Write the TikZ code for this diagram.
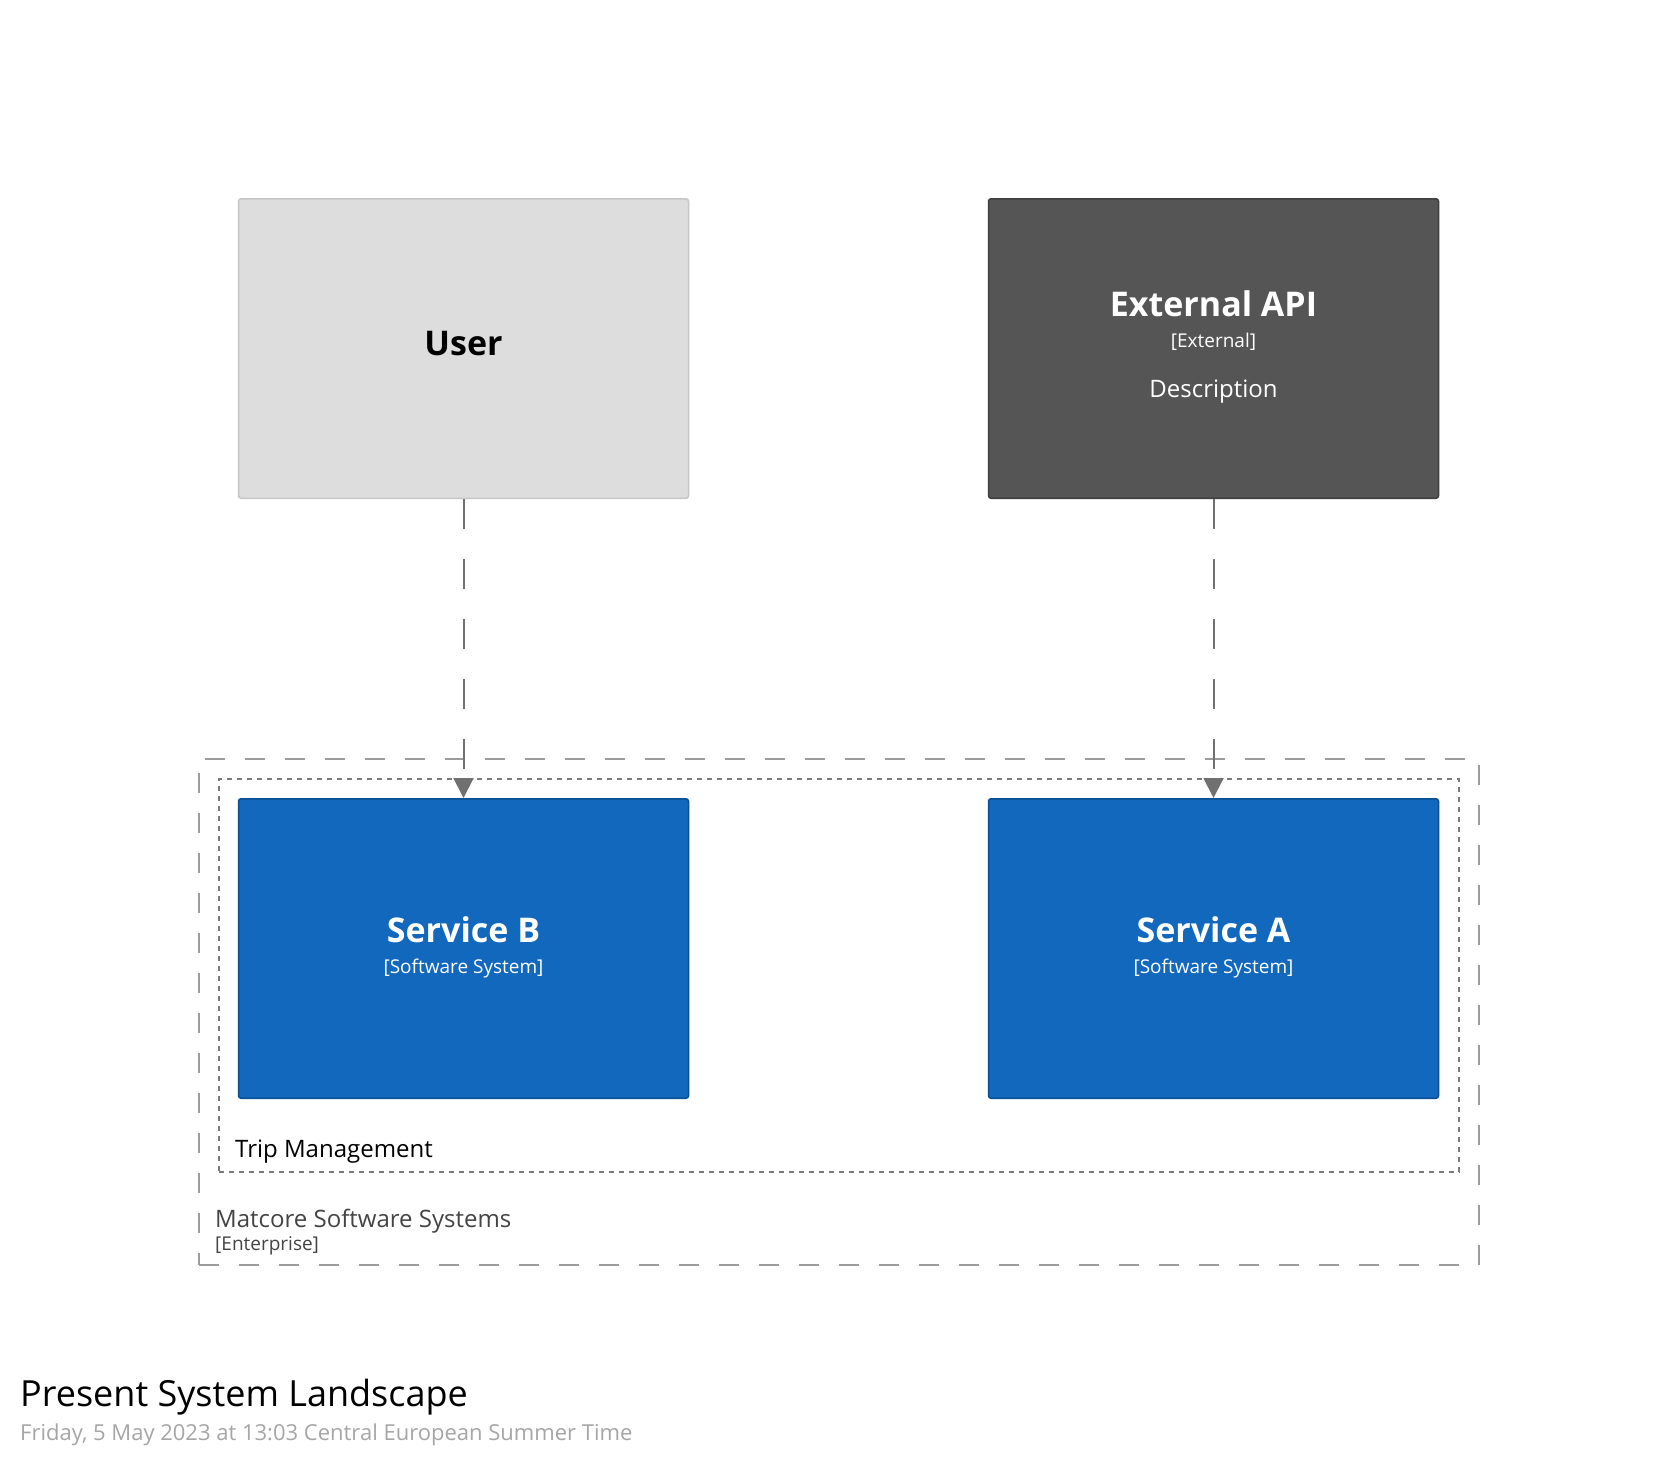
\documentclass[tikz,border=0pt]{standalone}
\usepackage{fontspec}
\setmainfont{Open Sans}
\usetikzlibrary{arrows.meta}
\definecolor{userfill}{HTML}{DDDDDD}
\definecolor{userdraw}{HTML}{C6C6C6}
\definecolor{extfill}{HTML}{555555}
\definecolor{extdraw}{HTML}{3E3E3E}
\definecolor{svcfill}{HTML}{1168BD}
\definecolor{svcdraw}{HTML}{0B4E90}
\definecolor{conncol}{HTML}{707070}
\definecolor{entcol}{HTML}{9C9C9C}
\definecolor{grpcol}{HTML}{7A7A7A}
\definecolor{enttext}{HTML}{444444}
\definecolor{datecol}{HTML}{A6A6A6}
\newcommand{\fs}[1]{\fontsize{#1pt}{#1pt}\selectfont}
\tikzset{
  elbox/.style={rectangle, rounded corners=2.5pt, line width=1.5pt, minimum width=450pt, minimum height=299.5pt, inner sep=0pt},
  userbox/.style={elbox, draw=userdraw, fill=userfill},
  extbox/.style={elbox, draw=extdraw, fill=extfill},
  svcbox/.style={elbox, draw=svcdraw, fill=svcfill},
  entbound/.style={rectangle, draw=entcol, line width=2pt, dash pattern=on 20pt off 20pt, minimum width=1280pt, minimum height=506pt, inner sep=0pt},
  grpbound/.style={rectangle, draw=grpcol, line width=2pt, dash pattern=on 5pt off 5pt, minimum width=1240pt, minimum height=393pt, inner sep=0pt},
  conn/.style={draw=conncol, line width=2pt, dash pattern=on 30pt off 30pt, -{Triangle[length=20pt, width=20pt]}},
  txt/.style={inner sep=0pt, anchor=base},
  ltxt/.style={inner sep=0pt, anchor=base west},
}
\begin{document}
\begin{tikzpicture}[x=1pt, y=-1pt]
\useasboundingbox[fill=white] (0,0) rectangle (1680,1467);
% boundaries
\node[entbound] (ent) at (839,1012) {};
\node[grpbound] (grp) at (839,975.5) {};
% boxes
\node[userbox] (user) at (463.5,348.5) {};
\node[extbox] (ext) at (1213.5,348.5) {};
\node[svcbox] (svcb) at (463.5,948.5) {};
\node[svcbox] (svca) at (1213.5,948.5) {};
% texts
\node[txt] (usert) at (463.5,355) {\fs{34}\bfseries User};
\node[txt, text=white] (extt) at (1213.5,316) {\fs{34}\bfseries External API};
\node[txt, text=white] (extm) at (1213.5,347) {\fs{19}[External]};
\node[txt, text=white] (extd) at (1213.5,397) {\fs{24}Description};
\node[txt, text=white] (svcbt) at (463.5,942) {\fs{34}\bfseries Service B};
\node[txt, text=white] (svcbm) at (463.5,973.5) {\fs{19}[Software System]};
\node[txt, text=white] (svcat) at (1213.5,942) {\fs{34}\bfseries Service A};
\node[txt, text=white] (svcam) at (1213.5,973.5) {\fs{19}[Software System]};
\node[ltxt] (grpt) at (235,1157) {\fs{24}Trip Management};
\node[ltxt, text=enttext] (entt) at (215,1227) {\fs{24}Matcore Software Systems};
\node[ltxt, text=enttext] (entm) at (215,1250) {\fs{19}[Enterprise]};
\node[ltxt] (title) at (20,1406) {\fs{36}Present System Landscape};
\node[ltxt, text=datecol] (date) at (20,1440) {\fs{22}Friday, 5 May 2023 at 13:03 Central European Summer Time};
% connectors
\draw[conn] (user.south) -- (svcb.north);
\draw[conn] (ext.south) -- (svca.north);
\end{tikzpicture}
\end{document}
